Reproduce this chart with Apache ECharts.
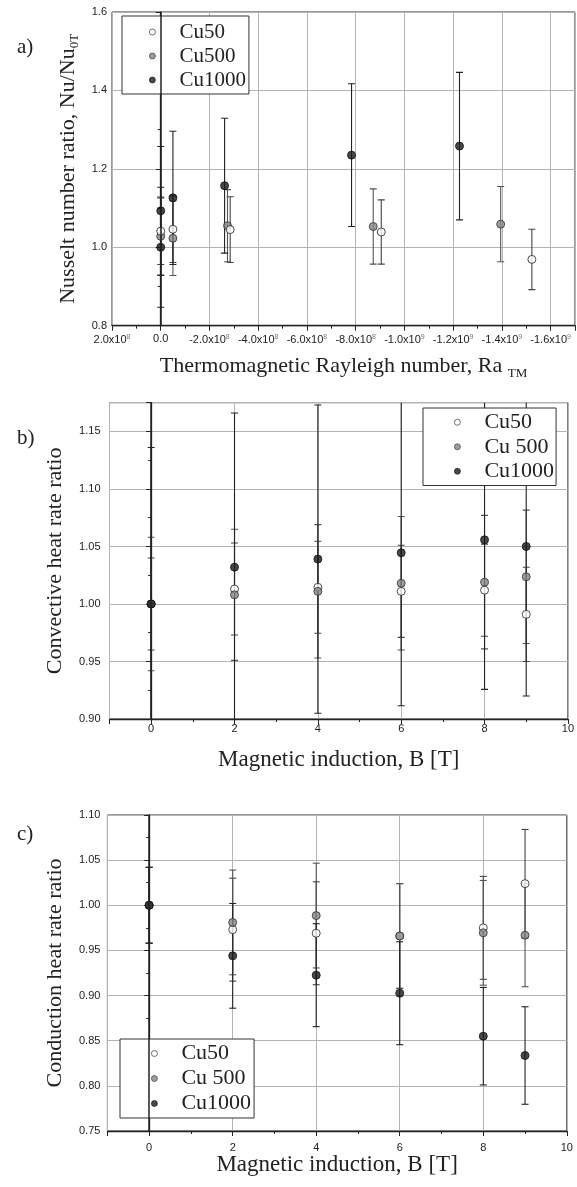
<!DOCTYPE html>
<html>
<head>
<meta charset="utf-8">
<script src="https://cdn.jsdelivr.net/npm/echarts@6/dist/echarts.min.js"></script>
<style>
html,body{margin:0;padding:0;background:#fff;}
#chart{width:577px;height:1187px;}
</style>
</head>
<body>
<div id="chart"></div>
<script>
// ---------- Panel a: Nusselt number ratio vs thermomagnetic Rayleigh number ----------
const aCu50X   = [0, -0.5e8, -2.85e8, -9.05e8, -15.23e8];
const aCu50Y   = [1.041, 1.046, 1.045, 1.039, 0.969];
const aCu50E   = [0.085, 0.085, 0.084, 0.082, 0.077];
const aCu500X  = [0, -0.5e8, -2.74e8, -8.72e8, -13.95e8];
const aCu500Y  = [1.028, 1.023, 1.055, 1.053, 1.059];
const aCu500E  = [0.100, 0.095, 0.092, 0.096, 0.096];
const aCu1000X = [0, 0, -0.5e8, -2.62e8, -7.83e8, -12.26e8];
const aCu1000Y = [1.000, 1.093, 1.126, 1.157, 1.235, 1.258];
const aCu1000E = [0.153, 0.164, 0.170, 0.172, 0.182, 0.188];

// ---------- Panel b: Convective heat rate ratio vs B ----------
const bB       = [0, 2, 4, 6, 8, 9];
const bCu50    = [1.000, 1.013, 1.0145, 1.011, 1.012, 0.991];
const bCu50E   = [0.040, 0.040, 0.040, 0.040, 0.040, 0.041];
const bCu500   = [1.000, 1.008, 1.011, 1.018, 1.019, 1.0236];
const bCu500E  = [0.058, 0.057, 0.058, 0.058, 0.058, 0.058];
const bCu1000  = [1.000, 1.032, 1.039, 1.0445, 1.0558, 1.050];
const bCu1000E = [0.136, 0.134, 0.134, 0.133, 0.130, 0.130];

// ---------- Panel c: Conduction heat rate ratio vs B ----------
const cB       = [0, 2, 4, 6, 8, 9];
const cCu50    = [1.000, 0.973, 0.969, 0.966, 0.975, 1.024];
const cCu50E   = [0.042, 0.057, 0.057, 0.058, 0.057, 0.060];
const cCu500   = [1.000, 0.981, 0.9886, 0.966, 0.9695, 0.9668];
const cCu500E  = [0.042, 0.058, 0.058, 0.058, 0.058, 0.057];
const cCu1000  = [1.000, 0.944, 0.9226, 0.9026, 0.855, 0.8336];
const cCu1000E = [0.042, 0.058, 0.057, 0.057, 0.054, 0.054];

// legend labels
const legendA = ['Cu50', 'Cu500', 'Cu1000'];
const legendB = ['Cu50', 'Cu 500', 'Cu1000'];
const legendC = ['Cu50', 'Cu 500', 'Cu1000'];

const SERIF = 'Liberation Serif';
const SANS = 'Liberation Sans';
const TXT = '#222';
const GRIDC = '#b4b4b4';

const zip3 = (xs, ys, es) => xs.map((x, i) => [x, ys[i], es[i]]);
const zip2 = (xs, ys) => xs.map((x, i) => [x, ys[i]]);

const markerStyles = [
  {color: '#ffffff', borderColor: '#222', borderWidth: 1},
  {color: '#858585', borderColor: '#333', borderWidth: 1},
  {color: '#1a1a1a', borderColor: '#111', borderWidth: 1}
];
const barColors = ['#444', '#555', '#222'];

function errSeries(idx, data, color) {
  return {
    type: 'custom', xAxisIndex: idx, yAxisIndex: idx, z: 2, clip: true, silent: true,
    data: data,
    encode: {x: 0, y: 1},
    renderItem: function (params, api) {
      const x = api.value(0), y = api.value(1), e = api.value(2);
      const t = api.coord([x, y + e]), b = api.coord([x, y - e]);
      const st = {stroke: color, lineWidth: 1.1};
      const h = 3.5;
      return {type: 'group', children: [
        {type: 'line', shape: {x1: t[0], y1: t[1], x2: b[0], y2: b[1]}, style: st},
        {type: 'line', shape: {x1: t[0] - h, y1: t[1], x2: t[0] + h, y2: t[1]}, style: st},
        {type: 'line', shape: {x1: b[0] - h, y1: b[1], x2: b[0] + h, y2: b[1]}, style: st}
      ]};
    }
  };
}
function ptSeries(idx, name, data, k, size) {
  return {
    type: 'scatter', name: name, xAxisIndex: idx, yAxisIndex: idx, z: 4,
    symbol: 'circle', symbolSize: size, data: data, itemStyle: markerStyles[k],
    emphasis: {disabled: true}
  };
}
function zeroLine(idx) {
  return {
    type: 'scatter', xAxisIndex: idx, yAxisIndex: idx, z: 1, data: [], silent: true,
    markLine: {symbol: 'none', silent: true, animation: false, label: {show: false},
      lineStyle: {color: '#222', width: 1.5, type: 'solid'}, data: [{xAxis: 0}]}
  };
}

const axisLineStyle = {color: '#222', width: 1.3};
function yAxisCfg(idx, min, max, interval, digits, name, gap, margin, showMax, rich) {
  return {
    type: 'value', gridIndex: idx, min: min, max: max, interval: interval,
    name: name, nameLocation: 'middle', nameGap: gap, nameRotate: 90,
    nameTextStyle: {fontFamily: SERIF, fontSize: 22, color: TXT, rich: rich || {}},
    axisLine: {show: true, lineStyle: axisLineStyle},
    axisTick: {show: true, inside: false, length: 5, lineStyle: {color: '#222'}},
    minorTick: {show: true, splitNumber: 2, length: 3, lineStyle: {color: '#222'}},
    axisLabel: {fontFamily: SANS, fontSize: 11, color: TXT, margin: margin, showMaxLabel: showMax,
      formatter: v => v.toFixed(digits)},
    splitLine: {show: true, lineStyle: {color: GRIDC, width: 1}}
  };
}
function xAxisB(idx, name, gap, margin) {
  return {
    type: 'value', gridIndex: idx, min: -1, max: 10, splitNumber: 5,
    name: name, nameLocation: 'middle', nameGap: gap,
    nameTextStyle: {fontFamily: SERIF, fontSize: 23, color: TXT},
    axisLine: {show: true, onZero: false, lineStyle: axisLineStyle},
    axisTick: {show: true, length: 5, lineStyle: {color: '#222'}},
    minorTick: {show: true, splitNumber: 2, length: 3, lineStyle: {color: '#222'}},
    axisLabel: {fontFamily: SANS, fontSize: 11, color: TXT, margin: margin, showMinLabel: false, interval: 0},
    splitLine: {show: true, lineStyle: {color: GRIDC, width: 1}}
  };
}

function legendCfg(left, top, names, prefix, fontSize, lh, pad, textPad) {
  return {
    left: left, top: top, orient: 'vertical', itemGap: 0, itemWidth: 6, itemHeight: 6,
    backgroundColor: '#fff', borderColor: '#333', borderWidth: 1, borderRadius: 0,
    padding: pad, selectedMode: false,
    itemStyle: {borderWidth: 0.8},
    data: names.map(n => ({name: prefix + n})),
    formatter: n => n.split('|')[1],
    textStyle: {fontFamily: SERIF, fontSize: fontSize, color: TXT, lineHeight: lh, padding: [0, 0, 0, textPad]}
  };
}

const option = {
  backgroundColor: '#fff',
  animation: false,
  title: [
    {text: 'a)', left: 12, top: 32, textStyle: {fontFamily: SERIF, fontSize: 21, fontWeight: 'normal', color: TXT}},
    {text: 'b)', left: 12, top: 423, textStyle: {fontFamily: SERIF, fontSize: 21, fontWeight: 'normal', color: TXT}},
    {text: 'c)', left: 12, top: 819, textStyle: {fontFamily: SERIF, fontSize: 21, fontWeight: 'normal', color: TXT}}
  ],
  grid: [
    {left: 112, top: 12, width: 463, height: 313.7, show: true, borderColor: '#333', borderWidth: 1, backgroundColor: 'transparent'},
    {left: 109.5, top: 402.7, width: 460.2, height: 316.3, show: true, borderColor: '#333', borderWidth: 1, backgroundColor: 'transparent'},
    {left: 107.4, top: 815, width: 459.4, height: 316, show: true, borderColor: '#333', borderWidth: 1, backgroundColor: 'transparent'}
  ],
  xAxis: [
    {
      type: 'value', gridIndex: 0, min: -1.7e9, max: 2e8, splitNumber: 10, inverse: true,
      name: 'Thermomagnetic Rayleigh number, Ra {sub|TM}', nameLocation: 'middle', nameGap: 27,
      nameTextStyle: {fontFamily: SERIF, fontSize: 22, color: TXT,
        rich: {sub: {fontFamily: SERIF, fontSize: 13, color: TXT, verticalAlign: 'bottom', padding: [14, 0, 0, 0]}}},
      axisLine: {show: true, onZero: false, lineStyle: axisLineStyle},
      axisTick: {show: true, length: 5, lineStyle: {color: '#222'}},
      minorTick: {show: true, splitNumber: 2, length: 3, lineStyle: {color: '#222'}},
      axisLabel: {
        fontFamily: SANS, fontSize: 11, color: TXT, margin: 8, interval: 0, showMinLabel: false,
        formatter: function (v) {
          if (Math.abs(v) < 1) return '{m|0.0}';
          const ex = Math.floor(Math.log10(Math.abs(v)) + 1e-9);
          const m = v / Math.pow(10, ex);
          return '{m|' + m.toFixed(1) + 'x10}{s|' + ex + '}';
        },
        rich: {
          m: {fontFamily: SANS, fontSize: 11, color: TXT},
          s: {fontFamily: SANS, fontSize: 7, color: '#777', verticalAlign: 'top', padding: [0, 0, 6, 0]}
        }
      },
      splitLine: {show: true, lineStyle: {color: GRIDC, width: 1}}
    },
    xAxisB(1, 'Magnetic induction, B [T]', 29, 4),
    xAxisB(2, 'Magnetic induction, B [T]', 21, 11)
  ],
  yAxis: [
    yAxisCfg(0, 0.8, 1.6, 0.2, 1, 'Nusselt number ratio, Nu/Nu{sub|0T}', 31, 5, true,
      {sub: {fontFamily: SERIF, fontSize: 13, color: TXT, verticalAlign: 'bottom', padding: [12, 0, 0, 0]}}),
    yAxisCfg(1, 0.9, 1.175, 0.05, 2, 'Convective heat rate ratio', 43, 9, false),
    yAxisCfg(2, 0.75, 1.10, 0.05, 2, 'Conduction heat rate ratio', 41, 7, true)
  ],
  legend: [
    legendCfg(122, 16, legendA, 'a|', 21, 24, [4, 3, 2, 27], 19),
    legendCfg(423, 408, legendB, 'b|', 22, 24.5, [2, 2, 2, 31], 19),
    legendCfg(120, 1039, legendC, 'c|', 22, 25, [2, 3, 2, 31], 19)
  ],
  series: [
    zeroLine(0), zeroLine(1), zeroLine(2),
    // panel a
    errSeries(0, zip3(aCu50X, aCu50Y, aCu50E), barColors[0]),
    errSeries(0, zip3(aCu500X, aCu500Y, aCu500E), barColors[1]),
    errSeries(0, zip3(aCu1000X, aCu1000Y, aCu1000E), barColors[2]),
    ptSeries(0, 'a|' + legendA[2], zip2(aCu1000X, aCu1000Y), 2, 8),
    ptSeries(0, 'a|' + legendA[1], zip2(aCu500X, aCu500Y), 1, 8),
    ptSeries(0, 'a|' + legendA[0], zip2(aCu50X, aCu50Y), 0, 8),
    // panel b
    errSeries(1, zip3(bB, bCu50, bCu50E), barColors[0]),
    errSeries(1, zip3(bB, bCu500, bCu500E), barColors[1]),
    errSeries(1, zip3(bB, bCu1000, bCu1000E), barColors[2]),
    ptSeries(1, 'b|' + legendB[0], zip2(bB, bCu50), 0, 8),
    ptSeries(1, 'b|' + legendB[1], zip2(bB, bCu500), 1, 8),
    ptSeries(1, 'b|' + legendB[2], zip2(bB, bCu1000), 2, 8),
    // panel c
    errSeries(2, zip3(cB, cCu50, cCu50E), barColors[0]),
    errSeries(2, zip3(cB, cCu500, cCu500E), barColors[1]),
    errSeries(2, zip3(cB, cCu1000, cCu1000E), barColors[2]),
    ptSeries(2, 'c|' + legendC[0], zip2(cB, cCu50), 0, 8),
    ptSeries(2, 'c|' + legendC[1], zip2(cB, cCu500), 1, 8),
    ptSeries(2, 'c|' + legendC[2], zip2(cB, cCu1000), 2, 8)
  ]
};

const chart = echarts.init(document.getElementById('chart'), null, {renderer: 'canvas'});
chart.setOption(option);
</script>
</body>
</html>
